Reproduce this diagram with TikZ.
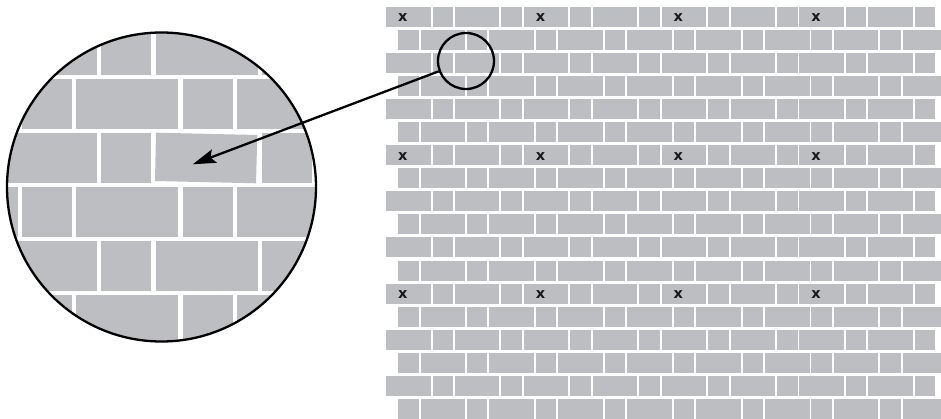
\documentclass[tikz,border=0pt]{standalone}
\usepackage{fontspec}
\setmainfont{Liberation Sans}
\newfontfamily\markfont{DejaVu Sans}
\usetikzlibrary{arrows.meta}
\definecolor{brick}{RGB}{189,190,194}
\begin{document}
\begin{tikzpicture}[x=1pt,y=-1pt,
  brickfill/.style={fill=brick},
  ring/.style={circle,draw=black,line width=2.3pt,inner sep=0pt},
  xmark/.style={font=\markfont\bfseries\fontsize{14.5}{14.5}\selectfont,inner sep=0pt,text=black!90},
  pointer/.style={line width=2.3pt,-{Stealth[length=23pt,width=14pt,inset=4pt]}}]
\useasboundingbox (0,0) rectangle (941,419);
% ---- wall on the right
\begin{scope}
\clip (0,0) rectangle (941,419);
\foreach \i in {0,...,17}{
  \pgfmathsetmacro{\ry}{7+\i*23.05}
  \ifodd\i
    \foreach \k in {0,...,7}{
      \pgfmathsetmacro{\bx}{398+\k*68.9}
      \fill[brickfill] (\bx,\ry) rectangle ++(20.5,20);
      \fill[brickfill] (\bx+22.5,\ry) rectangle ++(44.5,20);
    }
  \else
    \foreach \k in {0,...,7}{
      \pgfmathsetmacro{\bx}{386+\k*68.9}
      \fill[brickfill] (\bx,\ry) rectangle ++(44.5,20);
      \fill[brickfill] (\bx+46.5,\ry) rectangle ++(20.5,20);
    }
  \fi
}
\end{scope}
\foreach \i in {0,6,12}{
  \foreach \k in {0,2,4,6}{
    \node[xmark] (x-\i-\k) at (386+\k*68.9+16.7, 7+\i*23.05+11) {x};
  }
}
% ---- magnified view
\begin{scope}
\clip (161.5,187) circle[radius=154.5];
\foreach \r in {0,...,5}{
  \pgfmathsetmacro{\ry}{25+\r*54}
  \ifodd\r
    \foreach \m in {-1,0,1}{
      \pgfmathsetmacro{\bx}{21.7+\m*160.8}
      \fill[brickfill] (\bx,\ry) rectangle ++(50.4,50);
      \fill[brickfill] (\bx+54.6,\ry) rectangle ++(102,50);
    }
  \else
    \foreach \m in {0,1,2}{
      \pgfmathsetmacro{\bx}{-5.3+\m*160.8}
      \fill[brickfill] (\bx,\ry) rectangle ++(102,50);
      \fill[brickfill] (\bx+106.2,\ry) rectangle ++(50.4,50);
    }
  \fi
}
\fill[white] (154.5,132) rectangle (258.5,184);
\fill[brickfill] (156,132.7) -- (257.3,135) -- (256,183.3) -- (155,181) -- cycle;
\end{scope}
\node[ring,minimum size=309pt] (mag) at (161.5,187) {};
% ---- lens and pointer
\node[ring,minimum size=56pt] (lens) at (466,61) {};
\coordinate (tgt) at (192.7,164.3);
\draw[pointer] (lens) -- (tgt);
\end{tikzpicture}
\end{document}
